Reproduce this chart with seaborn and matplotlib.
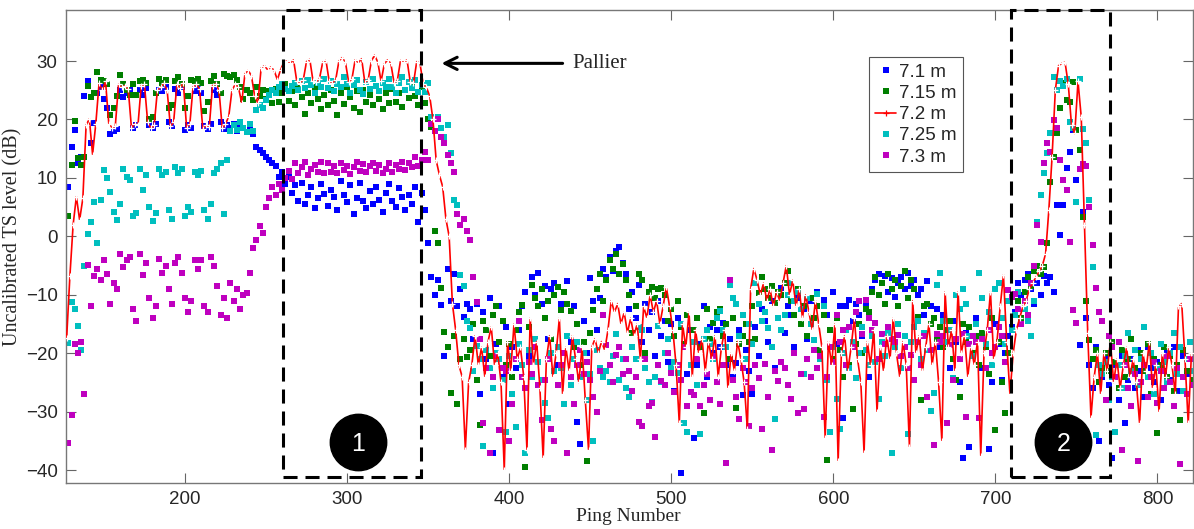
import numpy as np
import pandas as pd
import matplotlib
matplotlib.use('Agg')
import matplotlib.pyplot as plt
import seaborn as sns
from matplotlib.lines import Line2D
from matplotlib.patches import Rectangle

# TS level (dB), 7.2 m every 2 pings from 127,
# the other depths every 2 pings from 128
ts_72 = [
    -17.4, -6.8, 2.0, 6.8, 2.8, 6.5, 19.0, 20.1, 14.0, 19.3, 26.2, 25.0, 26.5, 19.3, 18.6, 18.8, 26.0, 25.5, 25.8, 25.2,
    18.5, 19.3, 19.0, 25.8, 26.0, 19.5, 18.5, 19.0, 25.0, 25.5, 26.2, 25.0, 18.8, 19.5, 26.0, 25.4, 26.3, 18.6, 19.2, 25.6,
    26.0, 25.2, 18.4, 19.0, 18.7, 25.8, 26.1, 25.0, 18.5, 19.2, 20.5, 25.0, 26.0, 25.5, 22.8, 27.8, 28.4, 27.5, 24.0, 22.8,
    28.8, 29.2, 28.5, 29.0, 28.4, 26.8, 28.5, 29.8, 30.0, 29.6, 30.2, 26.5, 26.2, 26.8, 29.9, 30.3, 26.6, 26.4, 27.0, 29.8,
    30.1, 26.5, 26.2, 26.8, 30.0, 30.6, 29.8, 26.4, 26.9, 30.2, 29.7, 30.4, 26.3, 26.7, 30.0, 31.0, 29.8, 26.5, 29.5, 30.2,
    29.6, 26.3, 26.6, 30.1, 29.8, 30.2, 26.4, 26.2, 29.9, 29.6, 26.0, 25.5, 24.0, 20.0, 13.0, 10.5, 8.5, 3.0, 0.0, -11.5,
    -16, -22, -24, -36.5, -25, -22, -17, -22, -19, -24, -18, -15.5, -22, -20, -25, -40, -18, -23, -15, -21,
    -19, -24, -36.5, -14, -22, -18, -26, -38, -21, -17, -24, -20, -14, -27, -19, -23, -17, -21, -25, -19,
    -28, -36.5, -19, -17.5, -20, -18, -19.5, -16, -11, -13, -11.5, -15, -13, -16.5, -14, -17, -15, -21, -12, -14,
    -10, -13, -11, -15, -12, -8.7, -12, -16, -22, -32, -15, -19, -13, -24, -16, -20, -17.5, -23, -18, -21,
    -17, -24, -19, -16, -26, -20, -23, -18, -21, -25, -33, -9, -5.5, -7.5, -10, -8, -11, -9, -12, -9.5,
    -11, -8, -5, -10, -7.5, -12, -9, -14, -10, -13, -16, -11, -15, -19, -34.5, -18, -22, -15, -38.5, -20,
    -17, -23, -19, -14, -21, -25, -37, -18, -22, -16, -30, -19, -23, -17, -21, -14, -20, -24, -18, -22,
    -36, -11, -20, -17, -23, -19, -15, -22, -18, -25, -35, -9.5, -19, -16, -23, -9.5, -20, -17, -24, -19,
    -22, -18, -37.5, -20, -16, -9.5, -21, -18, -12, -6.6, -18, -27, -20, -16, -14, -12, -11, -9, -8, -7,
    -6, -5, -3, 4.5, 13.6, 25, 29.2, 29.6, 29.8, 26, 19, 17.6, 26.5, 20.4, 2, -16.6, -31, -24, -20, -27,
    -20, -23, -18, -25, -21, -26, -22, -19, -24, -21, -25, -32, -20, -23, -18, -26, -22, -30, -20, -24,
    -19, -22, -27, -12, -11.5, -21, -32, -20,
]

ts_71 = [
    8.5, 15.3, 18.2, 12.5, 13.6, 24.0, 26.5, 16.0, 19.4, 24.5, 25.5, 23.5, 22.0, 17.5, 18.0, 18.3, 25.0, 23.8, 24.5, 25.0,
    18.5, 19.0, 25.0, 24.2, 25.3, 19.0, 18.6, 19.2, 25.0, 24.8, 25.5, 19.5, 18.8, 25.2, 24.6, 25.5, 18.2, 19.0, 18.6, 24.8,
    25.3, 24.5, 18.8, 18.3, 19.2, 25.0, 24.2, 19.5, 18.4, 19.0, 18.5, 19.2, 18.0, 19.0, 18.5, 17.8, 18.2, 17.5, 15.3, 14.8,
    14.2, 13.5, 13.0, 12.5, 12.0, 10.2, 11.0, 9.0, 10.2, 7.5, 8.8, 6.0, 9.2, 5.5, 7.0, 8.5, 4.8, 6.5, 9.0, 7.2,
    5.2, 8.0, 6.8, 4.5, 9.5, 7.0, 5.8, 8.8, 3.8, 6.5, 9.2, 6.0, 4.8, 7.8, 5.5, 8.5, 6.2, 4.2, 7.5, 9.0,
    6.0, 5.0, 8.2, 6.8, 4.5, 7.0, 5.5, 8.5, 2.5, 7.5, 4.5, -1.2, -7.0, -10.0, -7.5, -11.8, -20.5, -5.5, -11.0, -6.5,
    -12.0, -9.0, -13.8, -11.5, -12.5, -17.5, -11.5, -27.0, -13.0, -21.0, -10.5, -37.0, -18.5, -12.0, -24.0, -15.5, -28.6, -19.0, -22.5, -16.0,
    -12.0, -9.5, -20.5, -7.0, -10.0, -6.2, -11.5, -8.5, -17.5, -9.0, -8.0, -22.0, -11.5, -9.5, -7.6, -18.0, -12.0, -31.8, -35.5, -14.4,
    -20.0, -7.2, -11.0, -16.0, -10.5, -5.5, -7.0, -3.5, -6.0, -2.5, -1.8, -4.5, -6.5, -12.5, -9.5, -14.0, -8.3, -18.0, -11.5, -16.0,
    -13.0, -20.5, -11.0, -17.0, -14.5, -21.5, -15.0, -26.5, -14.0, -40.5, -19.0, -23.5, -16.0, -34.5, -22.0, -18.5, -12.0, -24.0, -15.5, -20.0,
    -16.0, -19.0, -14.8, -22.0, -17.5, -24.0, -21.7, -16.0, -27.2, -19.5, -23.0, -27.0, -15.5, -20.5, -12.5, -14.4, -18.0, -11.0, -22.5, -9.5,
    -8.9, -16.5, -12.0, -13.4, -19.0, -10.5, -15.0, -12.5, -17.5, -11.0, -14.0, -9.6, -20.0, -10.9, -13.5, -16.0, -9.5, -18.5, -12.0, -31.0,
    -12.0, -10.9, -14.5, -11.5, -13.5, -17.0, -12.0, -24.0, -9.0, -7.5, -6.5, -8.0, -6.8, -9.5, -7.2, -10.4, -8.0, -7.0, -9.0, -6.3,
    -8.5, -7.5, -10.0, -9.0, -13.5, -7.7, -12.0, -14.0, -12.5, -19.0, -13.5, -16.0, -22.5, -14.5, -18.0, -25.0, -38.0, -16.5, -36.0, -20.0,
    -14.0, -17.5, -22.5, -19.0, -36.4, -25.0, -15.0, -18.5, -24.6, -20.0, -17.0, -15.5, -13.0, -8.0, -10.0, -7.5, -6.5, -9.0, -11.5, -8.0,
    -10.0, -6.8, -8.0, -7.0, -9.5, 5.4, 0.3, 5.4, 11.7, 14.4, 18.2, 9.7, -18.6, 4.2, -14.0, -22.0, -26.0, -19.0, -35.0, -24.0,
    -21.0, -25.5, -38.0, -22.0, -28.0, -20.5, -32.0, -24.5, -21.0, -26.0, -19.5, -23.0, -27.5, -19.0, -22.5, -25.0, -21.5, -28.0, -23.0, -20.0,
    -24.5, -19.0, -22.0, -26.5, -20.5, -23.5, -18.0, -25.0,
]

ts_715 = [
    3.4, 12.2, 19.7, 13.4, 12.2, 13.5, 25.7, 23.8, 24.5, 28.2, 26.7, 26.5, 26.0, 20.8, 22.0, 24.0, 27.6, 26.0, 25.0, 24.2,
    26.0, 24.2, 26.5, 26.8, 26.2, 20.0, 20.5, 24.5, 27.0, 26.2, 26.8, 22.0, 22.5, 26.5, 27.2, 26.0, 22.0, 24.0, 26.8, 26.5,
    27.0, 26.2, 21.5, 23.0, 26.5, 27.5, 26.0, 24.5, 27.8, 27.5, 27.2, 27.6, 26.8, 25.5, 23.5, 25.0, 24.5, 23.3, 25.5, 24.0,
    25.0, 23.5, 24.8, 22.8, 25.2, 23.0, 24.5, 26.0, 23.2, 24.8, 22.5, 25.3, 23.8, 21.0, 24.6, 22.8, 25.5, 23.5, 21.8, 24.2,
    22.5, 25.0, 23.2, 20.8, 24.5, 22.6, 25.5, 23.8, 22.0, 24.8, 21.2, 25.0, 23.0, 24.2, 22.4, 25.8, 23.5, 21.8, 24.6, 22.9,
    25.2, 23.0, 24.5, 22.2, 25.0, 23.6, 26.0, 24.0, 22.5, 25.5, 22.8, 20.0, 18.7, 1.0, -1.2, -8.8, -16.4, -19.0, -26.8, -17.0,
    -28.6, -21.0, -17.5, -20.7, -19.5, -15.0, -24.5, -32.3, -14.4, -16.0, -20.5, -13.5, -12.0, -18.0, -14.5, -22.0, -18.5, -24.0, -16.0, -13.0,
    -11.8, -39.5, -15.5, -8.3, -10.5, -12.0, -9.0, -14.0, -11.0, -17.5, -10.0, -8.6, -12.6, -9.5, -11.5, -12.8, -19.0, -15.0, -22.0, -18.0,
    -38.4, -16.5, -12.6, -9.0, -6.5, -11.0, -7.5, -4.0, -5.5, -3.0, -6.5, -4.8, -7.5, -10.0, -16.5, -12.0, -6.5, -7.5, -20.0, -9.5,
    -8.7, -10.5, -9.0, -8.8, -10.0, -14.5, -12.4, -17.0, -11.0, -15.5, -18.5, -13.5, -22.0, -16.0, -14.0, -19.0, -30.3, -12.5, -17.5, -14.8,
    -13.0, -12.5, -17.0, -15.0, -21.0, -14.0, -29.4, -18.5, -17.0, -15.0, -18.0, -12.0, -17.5, -9.7, -7.0, -9.0, -10.5, -8.5, -11.4, -9.5,
    -10.0, -8.0, -6.0, -11.0, -13.5, -9.0, -15.0, -12.0, -17.0, -10.5, -14.0, -12.0, -19.5, -13.5, -38.3, -16.0, -21.0, -14.0, -19.5, -24.0,
    -16.0, -22.0, -29.6, -18.5, -15.0, -20.0, -12.4, -13.0, -9.5, -7.0, -10.0, -8.0, -11.5, -6.5, -9.0, -7.5, -12.0, -8.5, -6.0, -10.5,
    -7.5, -9.0, -13.8, -28.0, -12.0, -11.5, -15.0, -14.0, -17.5, -15.5, -19.0, -16.0, -14.5, -21.0, -24.6, -27.5, -15.0, -18.0, -15.5, -20.0,
    -17.0, -22.0, -16.5, -19.0, -23.5, -14.0, -33.2, -18.0, -25.0, -30.3, -20.0, -16.0, -13.5, -11.0, -14.0, -9.5, -7.0, -8.5, -6.0, -5.0,
    -6.5, -5.2, -1.2, 9.3, 13.5, 17.6, 21.9, 26.2, 23.3, 23.0, 26.4, 18.2, 14.8, 3.3, -11.0, -17.8, -21.0, -19.5, -25.0, -22.5,
    -20.0, -23.0, -18.0, -21.5, -26.0, -19.5, -24.0, -21.0, -17.5, -22.5, -25.5, -20.0, -23.0, -18.5, -27.0, -21.0, -33.7, -22.0, -19.0, -24.0,
    -20.5, -26.5, -22.0, -31.5, -19.5, -23.0, -21.0, -24.5,
]

ts_725 = [
    -18.3, -11.3, -12.4, -15.3, -19.5, -5.1, 0.4, 2.4, 5.8, -1.2, 6.2, 11.3, 10.0, 7.6, 4.1, 2.8, 5.6, 11.6, 10.2, 9.6,
    3.5, 4.0, 11.5, 8.0, 10.5, 5.0, 2.6, 4.0, 11.6, 10.5, 11.0, 4.5, 3.0, 11.8, 10.8, 11.5, 3.5, 5.0, 4.2, 11.0,
    10.5, 11.2, 4.5, 3.0, 5.5, 10.8, 11.5, 12.5, 3.8, 13.0, 18.0, 19.0, 18.2, 19.5, 18.5, 17.8, 19.2, 18.0, 21.6, 22.5,
    22.0, 23.3, 24.2, 25.0, 24.6, 25.5, 26.0, 25.2, 24.8, 25.8, 26.3, 25.0, 26.6, 25.4, 26.8, 25.9, 24.5, 26.2, 25.6, 27.0,
    25.3, 26.5, 24.8, 26.0, 25.5, 27.2, 26.1, 24.6, 25.9, 26.7, 25.0, 24.3, 26.4, 25.2, 27.0, 25.8, 24.9, 26.3, 25.5, 26.9,
    25.6, 24.5, 26.2, 27.3, 25.0, 26.4, 25.3, 26.8, 24.7, 25.9, 24.7, 26.2, 20.4, 18.0, 20.4, 18.5, 17.0, 19.0, 14.2, 6.2,
    5.3, -6.6, -8.5, -14.4, -15.7, -23.0, -18.7, -21.0, -35.8, -19.5, -22.5, -26.0, -20.0, -21.0, -24.5, -33.5, -20.5, -27.0, -32.6, -18.5,
    -22.0, -37.0, -19.5, -24.0, -17.5, -21.5, -24.6, -28.5, -31.0, -20.0, -23.0, -19.0, -22.5, -28.6, -17.0, -25.5, -21.0, -18.0, -24.0, -20.0,
    -28.0, -23.5, -35.0, -19.5, -22.5, -24.0, -23.0, -25.0, -20.5, -16.7, -24.5, -21.0, -26.0, -27.5, -19.0, -21.0, -15.5, -16.0, -22.5, -25.0,
    -28.3, -24.0, -15.3, -25.0, -20.0, -17.6, -22.5, -21.5, -23.3, -15.0, -32.0, -33.5, -22.0, -18.0, -25.5, -33.8, -17.5, -16.0, -18.5, -21.0,
    -14.0, -12.8, -16.0, -19.0, -8.3, -10.5, -11.6, -17.0, -13.5, -21.0, -15.0, -18.5, -7.9, -11.5, -14.5, -13.0, -15.7, -19.0, -31.2, -14.0,
    -16.0, -13.5, -10.0, -8.0, -11.0, -9.5, -12.5, -23.5, -10.5, -15.0, -17.7, -9.8, -21.0, -12.0, -24.5, -33.5, -19.0, -27.8, -33.0, -20.0,
    -16.0, -22.5, -18.0, -24.3, -20.0, -15.5, -19.5, -22.0, -17.0, -21.5, -27.8, -18.0, -20.5, -16.5, -37.0, -19.0, -15.0, -22.5, -17.0, -33.9,
    -18.0, -15.5, -14.4, -21.0, -16.5, -19.5, -29.9, -26.8, -8.3, -6.3, -14.5, -18.0, -16.0, -24.3, -10.0, -12.5, -9.0, -11.5, -17.0, -20.5,
    -15.0, -6.3, -10.5, -18.5, -13.0, -22.0, -9.0, -8.0, -14.0, -18.5, -11.0, -16.0, -13.5, -9.5, -15.0, -12.5, -14.5, -17.0, -11.0, 2.5,
    7.1, 10.8, 14.2, 17.6, 27.3, 25.0, 26.5, 25.8, 27.0, 19.6, 18.5, 5.9, 27.0, 18.3, 15.9, 6.3, -5.2, -34.0, -22.0, -23.5,
    -21.5, -28.0, -24.0, -33.5, -22.0, -26.0, -20.5, -16.6, -23.0, -19.5, -25.5, -21.0, -15.5, -24.0, -20.0, -27.0, -22.5, -18.5, -21.5, -25.0,
    -20.0, -16.5, -23.5, -19.0, -26.5, -21.0, -18.0, -23.0,
]

ts_73 = [
    -35.4, -30.6, -18.5, -20.0, -18.0, -27.0, -4.9, -12.0, -6.8, -5.5, -7.5, -4.0, -6.5, -11.5, -8.0, -9.0, -3.0, -5.2, -4.0, -3.5,
    -12.5, -14.4, -3.0, -6.6, -4.5, -10.5, -14.0, -12.0, -3.8, -6.3, -5.0, -9.0, -11.6, -4.5, -3.5, -6.3, -10.5, -13.0, -11.0, -4.0,
    -5.5, -4.0, -12.0, -13.0, -3.5, -5.0, -8.5, -13.5, -10.5, -14.0, -8.0, -11.0, -9.0, -12.5, -10.0, -9.7, -6.3, -2.0, -0.6, 1.8,
    0.5, 5.0, 6.5, 8.5, 7.0, 9.0, 8.0, 10.0, 11.2, 9.8, 12.5, 10.8, 11.8, 12.8, 10.5, 11.5, 12.2, 11.0, 12.8, 10.8,
    12.5, 11.0, 12.0, 10.8, 12.6, 11.4, 12.0, 10.6, 11.8, 12.8, 11.2, 12.4, 11.0, 12.0, 12.6, 11.2, 12.2, 10.8, 11.6, 12.5,
    11.0, 12.2, 11.5, 12.8, 11.3, 12.6, 11.8, 13.5, 12.0, 13.0, 14.5, 13.0, 19.3, 18.0, 20.0, 17.0, 16.0, 14.0, 12.5, 11.0,
    3.8, 2.0, 3.0, 1.0, -0.6, -6.9, -11.2, -17.5, -32.0, -22.5, -37.0, -24.0, -20.5, -33.2, -22.5, -23.0, -35.0, -28.6, -21.0, -14.4,
    -24.0, -26.0, -21.5, -23.5, -19.0, -25.5, -31.4, -24.5, -21.0, -33.0, -35.0, -25.5, -22.0, -20.0, -37.0, -24.0, -28.6, -22.0, -19.5, -23.5,
    -21.5, -24.5, -27.5, -30.0, -23.0, -13.4, -18.6, -22.0, -25.0, -20.3, -19.0, -23.5, -21.0, -23.0, -26.5, -24.0, -31.8, -32.5, -21.0, -29.0,
    -28.5, -34.4, -22.0, -24.8, -25.5, -20.0, -23.3, -26.6, -22.0, -24.5, -19.0, -29.0, -26.6, -27.2, -21.0, -29.0, -25.5, -23.5, -28.0, -20.5,
    -25.0, -28.6, -22.0, -38.8, -7.5, -24.5, -27.5, -31.2, -22.5, -25.0, -32.5, -26.0, -22.0, -24.3, -33.0, -21.8, -27.5, -36.6, -23.0, -24.8,
    -21.5, -22.5, -25.5, -27.8, -20.0, -30.3, -23.5, -29.5, -21.0, -24.0, -19.5, -22.5, -20.5, -30.9, -24.0, -19.0, -21.5, -13.5, -18.0, -16.0,
    -22.0, -15.5, -19.0, -13.0, -11.0, -16.7, -10.9, -14.0, -16.0, -14.9, -21.0, -16.7, -18.5, -15.5, -17.5, -18.0, -16.8, -20.5, -19.0, -22.5,
    -20.3, -24.6, -18.0, -22.0, -17.0, -27.5, -19.5, -35.7, -16.7, -18.0, -17.0, -32.0, -18.6, -24.6, -17.5, -21.0, -16.7, -30.9, -18.5, -17.0,
    -18.0, -31.0, -17.5, -22.5, -16.0, -20.0, -19.0, -15.5, -17.0, -21.5, -9.2, -10.4, -9.8, -12.5, -15.0, -11.0, -13.5, -8.0, -5.0, 2.0,
    -1.0, 12.5, 16.0, 14.4, 19.9, 18.5, 13.0, 9.7, 8.0, -0.9, -12.6, -14.8, 11.5, 12.3, 12.0, 5.0, -1.5, -8.9, -13.0, -14.4,
    -28.0, -17.0, -19.0, -24.0, -18.0, -36.5, -22.0, -26.0, -29.0, -23.5, -38.5, -25.0, -22.0, -27.5, -24.0, -21.5, -28.5, -23.0, -26.0, -20.5,
    -25.0, -29.0, -22.5, -39.0, -24.0, -27.0, -21.0, -25.5,
]

labels = ['7.1 m', '7.15 m', '7.2 m', '7.25 m', '7.3 m']
colors = ['#0000ff', '#007f00', '#ff0000', '#00bfbf', '#bf00bf']

# annotation boxes (ping ranges) and circled numbers
boxes = [(260.4, 345.5), (709.7, 770.7)]
circle_pings = [306.7, 742.0]
circle_labels = ['1', '2']

ping_line = 127 + 2 * np.arange(len(ts_72))


def dots(ts):
    return pd.DataFrame({'ping': 128 + 2 * np.arange(len(ts)), 'ts': ts})


sns.set_style('ticks', {'xtick.direction': 'in', 'ytick.direction': 'in'})
plt.rcParams['font.family'] = ['Liberation Sans', 'DejaVu Sans']

fig = plt.figure(figsize=(11.94, 5.29), dpi=100)
ax = fig.add_axes([66 / 1194, 1 - 483 / 529, 1 - 66 / 1194 - 0.0005, (483 - 10) / 529])

for ts, c in [(ts_71, colors[0]), (ts_715, colors[1]), (ts_725, colors[3]), (ts_73, colors[4])]:
    sns.scatterplot(data=dots(ts), x='ping', y='ts', ax=ax, color=c,
                    marker='s', s=20, linewidth=0, legend=False, zorder=2)
sns.lineplot(x=ping_line, y=ts_72, ax=ax, color=colors[2], lw=1.2, marker='+',
             markersize=5, markeredgewidth=0.9, estimator=None, sort=False, zorder=4)

ax.set_xlim(126.6, 822.2)
ax.set_ylim(-42.2, 38.73)
ax.set_xticks(range(200, 801, 100))
ax.set_yticks(range(-40, 31, 10))
ax.tick_params(axis='both', which='both', direction='in', top=True, right=True,
               length=7, width=0.8, color='#666666', labelsize=13.5, pad=6)
for sp in ax.spines.values():
    sp.set_color('#777777')
    sp.set_linewidth(1.0)

ax.set_xlabel('Ping Number', family='Liberation Serif', fontsize=14)
ax.set_ylabel('Uncalibrated TS level (dB)', family='Liberation Serif', fontsize=14.5)
ax.xaxis.set_label_coords(0.499, -0.052)
ax.yaxis.set_label_coords(-0.039, 0.52)

# dashed boxes
for x0, x1 in boxes:
    ax.add_patch(Rectangle((x0, -41.2), x1 - x0, 38.73 + 41.2, fill=False,
                           edgecolor='black', lw=2.2, linestyle=(0, (4.6, 2.6)),
                           clip_on=False, zorder=6))

# numbered circles
ax.scatter(circle_pings, [-35.1, -35.1], s=1650, color='black', zorder=7, clip_on=False)
for xp, lab in zip(circle_pings, circle_labels):
    ax.text(xp, -35.1, lab, color='white', fontsize=18, ha='center',
            va='center_baseline', zorder=8)

# Pallier arrow
ax.annotate('', xy=(358.3, 29.6), xytext=(433, 29.6),
            arrowprops=dict(arrowstyle='->', lw=2.2, color='black',
                            mutation_scale=22, shrinkA=0, shrinkB=0), zorder=8)
ax.text(439, 29.6, 'Pallier', family='Liberation Serif', fontsize=15, va='center')

handles = []
for lab, c in zip(labels, colors):
    if lab == '7.2 m':
        handles.append(Line2D([], [], color=c, lw=1.2, marker='+', ms=5, mew=0.9))
    else:
        handles.append(Line2D([], [], color=c, ls='none', marker='s', ms=4, mew=0))
leg = ax.legend(handles, labels, loc='upper left', bbox_to_anchor=(0.712, 0.9006),
                borderaxespad=0, fontsize=13.5, handlelength=1.1, handletextpad=0.15,
                labelspacing=0.22, borderpad=0.35, fancybox=False, framealpha=1,
                edgecolor='#555555')
leg.get_frame().set_linewidth(0.8)
leg.set_zorder(9)

fig.savefig('out.png', dpi=100)
